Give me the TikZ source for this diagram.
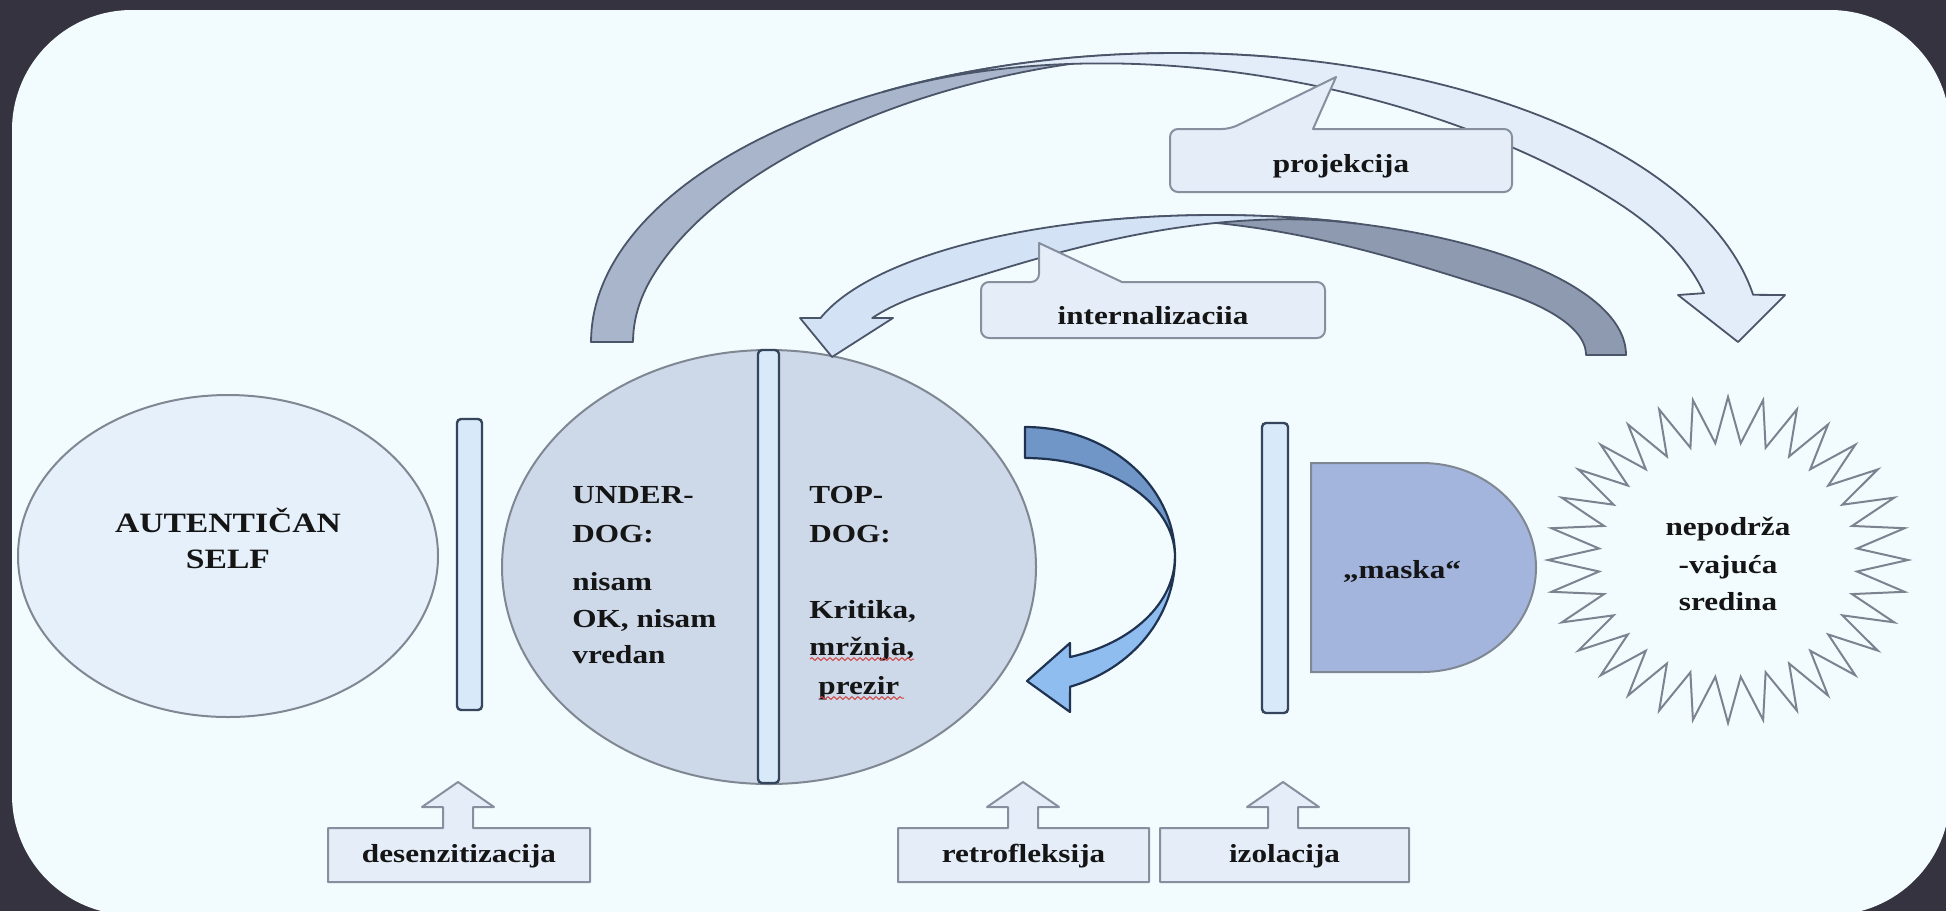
\documentclass[tikz,border=0pt]{standalone}
\usepackage{fontspec}
\setmainfont{Liberation Serif}[FakeStretch=1.2]
\usetikzlibrary{shapes.geometric,decorations.pathmorphing}

\definecolor{bgdark}{HTML}{35333F}
\definecolor{panel}{HTML}{F2FBFD}
\definecolor{selffill}{HTML}{E6F0FB}
\definecolor{bigfill}{HTML}{CDD8E8}
\definecolor{shapeline}{HTML}{7F8793}
\definecolor{barfill}{HTML}{D8EAFA}
\definecolor{barline}{HTML}{34455C}
\definecolor{maskfill}{HTML}{A3B5DD}
\definecolor{starline}{HTML}{7B8391}
\definecolor{callfill}{HTML}{E5EEF8}
\definecolor{callline}{HTML}{868F9D}
\definecolor{projdark}{HTML}{A8B5CA}
\definecolor{projlight}{HTML}{E3EDF9}
\definecolor{intdark}{HTML}{8E9AB0}
\definecolor{intlight}{HTML}{D3E2F4}
\definecolor{arrowline}{HTML}{4B5569}
\definecolor{retrodark}{HTML}{7096C8}
\definecolor{retrolight}{HTML}{8FBDF0}
\definecolor{retroline}{HTML}{1F3350}
\definecolor{txtcol}{HTML}{151515}
\definecolor{squig}{HTML}{D04848}

\newcommand{\upcall}[3]{%
  \draw[callout] (#1,828) -- ({#3-15},828) -- ({#3-15},807) -- ({#3-36},807)
    -- (#3,782) -- ({#3+36},807) -- ({#3+15},807) -- ({#3+15},828)
    -- (#2,828) -- (#2,882) -- (#1,882) -- cycle;}

\begin{document}
\begin{tikzpicture}[x=0.5pt,y=-0.5pt,
  declare function={
    cl(\r)=min(1,max(0,\r));
    sm(\r)=cl(\r)*cl(\r)*(3-2*cl(\r));
    wpd(\t)=42*sm((280-\t)/85);
    wpl(\t)=46*sm((\t-240)/85);
    wid(\t)=40*sm((\t-250)/70);
    wil(\t)=40*sm((290-\t)/70);
    sr(\k)=ifthenelse(mod(\k,2)==0,1,0.72);
  },
  txt/.style={font=\fontsize{13}{15}\selectfont\bfseries, inner sep=0pt, text=txtcol},
  bigtxt/.style={font=\fontsize{14}{16}\selectfont\bfseries, inner sep=0pt, text=txtcol},
  shapeout/.style={draw=shapeline, line width=1pt},
  barbox/.style={draw=barline, fill=barfill, line width=1.2pt, rectangle, rounded corners=2pt, inner sep=0pt},
  callout/.style={draw=callline, fill=callfill, line width=1pt, line join=round},
  arrline/.style={draw=arrowline, line width=0.9pt, line join=round},
  retroedge/.style={draw=retroline, line width=1.1pt, line join=round},
  squiggle/.style={draw=squig, line width=0.5pt, decorate,
    decoration={snake, segment length=3pt, amplitude=0.7pt}}
]
\useasboundingbox (0,0) rectangle (1946,911);
\fill[bgdark] (0,0) rectangle (1946,911);
\fill[panel, rounded corners=60pt] (12,10) rectangle (1950,915);

% ellipses
\node[ellipse, shapeout, fill=selffill, minimum width=210pt, minimum height=161pt, inner sep=0pt] (self) at (228,556) {};
\node[ellipse, shapeout, fill=bigfill, minimum width=267pt, minimum height=217pt, inner sep=0pt] (dog) at (769,567) {};

% bars
\node[barbox, minimum width=12.5pt, minimum height=145.5pt] (bar1) at (469.5,564.5) {};
\node[barbox, minimum width=10.5pt, minimum height=216.5pt] (bar2) at (768.5,566.5) {};
\node[barbox, minimum width=13pt, minimum height=145pt] (bar3) at (1275,568) {};

% maska
\draw[shapeout, fill=maskfill] (1311,463) -- (1422,463)
  arc[start angle=-90, end angle=90, x radius=114, y radius=104.5] -- (1311,672) -- cycle;

% starburst
\draw[draw=starline, line width=1pt, fill=panel, line join=miter]
  plot[samples at={0,...,63}] ({1728+180*sr(\x)*cos(\x*5.625)},{560+163*sr(\x)*sin(\x*5.625)}) -- cycle;

% projekcija arrow
\draw[arrline, fill=projdark]
  plot[domain=180:280, samples=80] ({1176+585*cos(\x)},{342+289*sin(\x)})
  -- plot[domain=280:180, samples=80] ({1176+(585-wpd(\x))*cos(\x)},{342+(289-wpd(\x))*sin(\x)}) -- cycle;
\draw[arrline, fill=projlight]
  plot[domain=240:350.6, samples=80] ({1176+585*cos(\x)},{342+289*sin(\x)})
  -- (1785,295) -- (1738,342) -- (1678,295)
  -- plot[domain=348.4:240, samples=80] ({1176+(585-wpl(\x))*cos(\x)},{342+(289-wpl(\x))*sin(\x)}) -- cycle;

% internalizacija arrow
\draw[arrline, fill=intdark]
  plot[domain=360:250, samples=80] ({1216+410*cos(\x)},{355+140*sin(\x)})
  -- plot[domain=250:360, samples=80] ({1216+(410-wid(\x))*cos(\x)},{355+(140-wid(\x))*sin(\x)}) -- cycle;
\draw[arrline, fill=intlight]
  plot[domain=290:195.3, samples=80] ({1216+410*cos(\x)},{355+140*sin(\x)})
  -- (800,318) -- (832,357) -- (893,318)
  -- plot[domain=201.7:290, samples=80] ({1216+(410-wil(\x))*cos(\x)},{355+(140-wil(\x))*sin(\x)}) -- cycle;

% retrofleksija arrow
\draw[retroedge, fill=retrodark] (1025,427)
  arc[start angle=-90, end angle=0, x radius=150, y radius=130]
  arc[start angle=0, end angle=-90, x radius=150, y radius=99] -- cycle;
\draw[retroedge, fill=retrolight] (1175,557)
  arc[start angle=0, end angle=72.5, x radius=150, y radius=136]
  -- (1070,712) -- (1027,681) -- (1070,643) -- (1070,657)
  arc[start angle=72.5, end angle=0, x radius=150, y radius=105] -- cycle;

% callouts (top)
\draw[callout] (1170,160) [rounded corners=4pt] |- (1230,129) [sharp corners] -- (1336,77) -- (1313,129)
  [rounded corners=4pt] -| (1512,160) |- (1170,192) -- cycle;
\draw[callout] (981,310) [rounded corners=4pt] |- (1039,282) [sharp corners] -- (1039,243) -- (1122,282)
  [rounded corners=4pt] -| (1325,310) |- (981,338) -- cycle;

% callouts (bottom)
\upcall{328}{590}{458}
\upcall{898}{1149}{1023}
\upcall{1160}{1409}{1283}

% texts
\node[bigtxt, anchor=base] (t1) at (228,532) {AUTENTIČAN};
\node[bigtxt, anchor=base] (t2) at (228,568) {SELF};

\node[txt, anchor=base west] (u1) at (572,503) {UNDER-};
\node[txt, anchor=base west] (u2) at (572,542) {DOG:};
\node[txt, anchor=base west] (u3) at (572,590) {nisam};
\node[txt, anchor=base west] (u4) at (572,627) {OK, nisam};
\node[txt, anchor=base west] (u5) at (572,663) {vredan};

\node[txt, anchor=base west] (p1) at (809,503) {TOP-};
\node[txt, anchor=base west] (p2) at (809,542) {DOG:};
\node[txt, anchor=base west] (p3) at (809,618) {Kritika,};
\node[txt, anchor=base west] (p4) at (809,655) {mržnja,};
\node[txt, anchor=base west] (p5) at (818,694) {prezir};
\draw[squiggle] (810,659) -- (914,659);
\draw[squiggle] (820,698) -- (904,698);

\node[txt, anchor=base] (mask) at (1402,578) {„maska“};

\node[txt, anchor=base] (e1) at (1728,535) {nepodrža};
\node[txt, anchor=base] (e2) at (1728,573) {-vajuća};
\node[txt, anchor=base] (e3) at (1728,610) {sredina};

\node[txt, anchor=base] (proj) at (1341,172) {projekcija};
\node[txt, anchor=base] (intl) at (1153,324) {internalizaciia};

\node[txt, anchor=base] (des) at (459,862) {desenzitizacija};
\node[txt, anchor=base] (ret) at (1023.5,862) {retrofleksija};
\node[txt, anchor=base] (izo) at (1284.5,862) {izolacija};
\end{tikzpicture}
\end{document}
